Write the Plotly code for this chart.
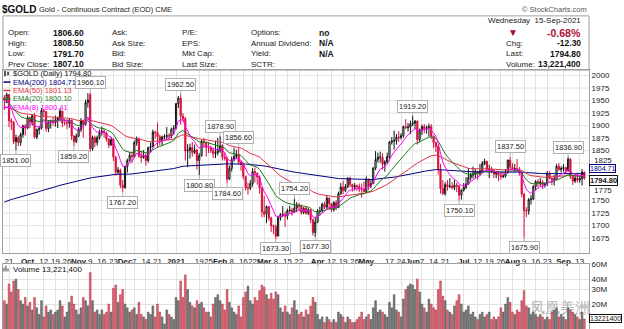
import math
import pandas as pd
import plotly.graph_objects as go

W, H = 624, 329
def fx(px): return px / W
def fy(py): return 1 - py / H

START, END = "2020-09-17", "2021-09-15"
HOLIDAYS = ["2020-11-26", "2020-12-25", "2021-01-01", "2021-01-18", "2021-02-15",
            "2021-04-02", "2021-05-31", "2021-07-05", "2021-09-06"]

opens = [
    # Sep 2020
    1956, 1950, 1962, 1910, 1907, 1868, 1876, 1866, 1882, 1899,
    # Oct
    1895, 1916, 1907, 1920, 1877, 1892, 1895, 1930, 1928, 1894, 1907, 1908, 1906, 1911, 1915, 1929, 1905, 1905, 1905, 1911, 1879, 1868,
    # Nov
    1879, 1892, 1910, 1903, 1946, 1962, 1854, 1876, 1866, 1876, 1886, 1889, 1885, 1873, 1861, 1872, 1837, 1807, 1811, 1781,
    # Dec
    1776, 1818, 1830, 1840, 1838, 1866, 1873, 1839, 1836, 1840, 1830, 1856, 1858, 1887, 1886, 1878, 1870, 1877, 1878, 1880, 1879, 1893,
    # Jan 2021
    1895, 1944, 1955, 1919, 1914, 1849, 1851, 1856, 1846, 1851, 1830, 1840, 1869, 1866, 1856, 1856, 1850, 1844, 1846,
    # Feb
    1850, 1860, 1837, 1834, 1793, 1814, 1832, 1838, 1842, 1827, 1823, 1798, 1775, 1775, 1784, 1808, 1805, 1797, 1775,
    # Mar
    1728, 1723, 1738, 1715, 1700, 1698, 1679, 1716, 1722, 1722, 1719, 1730, 1731, 1727, 1735, 1741, 1739, 1726, 1735, 1725, 1732, 1712, 1686,
    # Apr
    1707, 1729, 1729, 1743, 1737, 1755, 1744, 1732, 1746, 1736, 1764, 1777, 1770, 1778, 1794, 1782, 1777, 1780, 1778, 1773, 1772,
    # May
    1768, 1793, 1779, 1784, 1815, 1832, 1837, 1837, 1823, 1827, 1838, 1867, 1869, 1870, 1877, 1876, 1880, 1898, 1896, 1897,
    # Jun
    1903, 1905, 1909, 1872, 1891, 1898, 1894, 1896, 1898, 1879, 1866, 1858, 1812, 1774, 1764, 1782, 1778, 1779, 1776, 1781, 1779, 1761,
    # Jul
    1771, 1777, 1783, 1796, 1801, 1803, 1808, 1805, 1809, 1824, 1828, 1812, 1813, 1810, 1803, 1806, 1801, 1798, 1799, 1806, 1831,
    # Aug
    1817, 1813, 1814, 1812, 1806, 1763, 1730, 1729, 1752, 1753, 1778, 1788, 1786, 1787, 1781, 1784, 1805, 1794, 1791, 1793, 1819, 1812,
    # Sep
    1814, 1816, 1810, 1833, 1798, 1789, 1795, 1791, 1794, 1806.6,
]
highs = [
    1961, 1966, 1963, 1915, 1909, 1882, 1880, 1886, 1902, 1903,
    1920, 1918, 1922, 1925, 1894, 1897, 1935, 1933, 1929, 1911, 1912, 1917, 1920, 1918, 1934, 1930, 1913, 1912, 1914, 1912, 1881, 1884,
    1897, 1915, 1912, 1952, 1965, 1966.1, 1880, 1880, 1880, 1892, 1898, 1893, 1888, 1875, 1877, 1875, 1839, 1817, 1814, 1791,
    1820, 1834, 1847, 1848, 1870, 1878, 1876, 1850, 1851, 1845, 1858, 1866, 1892, 1890, 1906, 1882, 1880, 1883, 1897, 1885, 1896, 1901,
    1945, 1959, 1962.5, 1925, 1917, 1863, 1864, 1867, 1862, 1854, 1845, 1872, 1875, 1868, 1867, 1860, 1856, 1870, 1875,
    1878.9, 1863, 1846, 1838, 1820, 1838, 1856, 1852, 1856.6, 1830, 1826, 1800, 1786, 1791, 1815, 1816, 1806, 1800, 1777,
    1760, 1740, 1739, 1718, 1702, 1702, 1720, 1725, 1739, 1728, 1734, 1740, 1736, 1754.2, 1747, 1745, 1742, 1737, 1739, 1736, 1733, 1714, 1718,
    1733, 1738, 1746, 1748, 1759, 1756, 1745, 1749, 1751, 1768, 1785, 1790, 1783, 1797, 1798, 1784, 1785, 1782, 1784, 1784, 1788,
    1798, 1794, 1791, 1817, 1849, 1846, 1848, 1845, 1831, 1846, 1869, 1877, 1890, 1883, 1889, 1885, 1900, 1913, 1905, 1910,
    1919.2, 1911, 1910, 1894, 1902, 1903, 1900, 1904, 1903, 1880, 1868, 1862, 1823, 1791, 1787, 1791, 1795, 1787, 1791, 1786, 1781, 1772,
    1785, 1797, 1815, 1806, 1818, 1813, 1809, 1823, 1829, 1834, 1830, 1822, 1818, 1813, 1809, 1809, 1807, 1803, 1813, 1832, 1837.5,
    1825, 1823, 1833, 1817, 1808, 1765, 1737, 1755, 1761, 1781, 1791, 1793, 1795, 1791, 1787, 1809, 1809, 1797, 1801, 1823, 1825, 1819,
    1823, 1818, 1836.9, 1834, 1801, 1802, 1806, 1799, 1813, 1808.5,
]
lows = [
    1931, 1945, 1897, 1891, 1863, 1851, 1859, 1860, 1876, 1880,
    1893, 1895, 1900, 1874, 1873, 1882, 1892, 1918, 1888, 1887, 1894, 1900, 1898, 1895, 1908, 1897, 1900, 1893, 1896, 1871, 1859.2, 1865,
    1877, 1887, 1876, 1900, 1936, 1848, 1850, 1857, 1860, 1872, 1880, 1876, 1868, 1855, 1860, 1829, 1800, 1802, 1775, 1767.2,
    1774, 1806, 1828, 1826, 1835, 1860, 1836, 1826, 1834, 1820, 1826, 1846, 1856, 1874, 1856, 1860, 1860, 1872, 1873, 1872, 1875, 1882,
    1893, 1935, 1902, 1908, 1830, 1817, 1834, 1838, 1843, 1812, 1800.8, 1838, 1855, 1838, 1845, 1845, 1835, 1835, 1840,
    1846, 1830, 1830, 1784.6, 1791, 1808, 1828, 1833, 1822, 1810, 1792, 1770, 1762, 1771, 1778, 1786, 1782, 1764, 1717,
    1717, 1705, 1710, 1687, 1683, 1673.3, 1679, 1710, 1717, 1697, 1712, 1726, 1720, 1726, 1727, 1729, 1722, 1723, 1722, 1721, 1705, 1680, 1677.3,
    1705, 1720, 1726, 1733, 1734, 1732, 1727, 1728, 1731, 1735, 1761, 1763, 1767, 1775, 1777, 1768, 1770, 1769, 1767, 1756, 1766,
    1765, 1771, 1775, 1783, 1811, 1826, 1826, 1812, 1808, 1824, 1834, 1862, 1852, 1862, 1867, 1872, 1876, 1893, 1888, 1883,
    1899, 1893, 1862, 1867, 1881, 1885, 1884, 1878, 1873, 1855, 1847, 1802, 1764, 1761, 1760, 1770, 1775, 1772, 1771, 1767, 1750.1, 1752,
    1768, 1773, 1782, 1790, 1794, 1795, 1792, 1800, 1805, 1821, 1808, 1795, 1805, 1795, 1795, 1789, 1792, 1795, 1796, 1804, 1811,
    1811, 1807, 1808, 1800, 1757, 1675.9, 1717, 1722, 1742, 1751, 1770, 1777, 1779, 1773, 1776, 1779, 1795, 1781, 1780, 1792, 1810, 1806,
    1808, 1803, 1808, 1793, 1781, 1785, 1786, 1786, 1780, 1791.7,
]
closes = [
    1950, 1962, 1910, 1907, 1868, 1876, 1866, 1882, 1899, 1895,
    1916, 1907, 1920, 1877, 1892, 1895, 1930, 1928, 1894, 1907, 1908, 1906, 1911, 1915, 1929, 1905, 1905, 1905, 1911, 1879, 1868, 1879,
    1892, 1910, 1903, 1946, 1951, 1854, 1876, 1866, 1876, 1886, 1889, 1885, 1873, 1861, 1872, 1837, 1807, 1811, 1781, 1776,
    1818, 1830, 1840, 1838, 1866, 1873, 1839, 1836, 1840, 1830, 1856, 1858, 1887, 1886, 1878, 1870, 1877, 1878, 1880, 1879, 1893, 1895,
    1944, 1955, 1919, 1914, 1849, 1851, 1856, 1846, 1851, 1830, 1840, 1869, 1866, 1856, 1856, 1850, 1844, 1846, 1850,
    1860, 1837, 1834, 1793, 1814, 1832, 1838, 1842, 1827, 1823, 1798, 1775, 1775, 1784, 1808, 1805, 1797, 1775, 1728,
    1723, 1738, 1715, 1700, 1698, 1679, 1716, 1722, 1722, 1719, 1730, 1731, 1727, 1735, 1741, 1739, 1726, 1735, 1725, 1732, 1712, 1686, 1707,
    1729, 1729, 1743, 1737, 1755, 1744, 1732, 1746, 1736, 1764, 1777, 1770, 1778, 1794, 1782, 1777, 1780, 1778, 1773, 1772, 1768,
    1793, 1779, 1784, 1815, 1832, 1837, 1837, 1823, 1827, 1838, 1867, 1869, 1870, 1877, 1876, 1880, 1898, 1896, 1897, 1903,
    1905, 1909, 1872, 1891, 1898, 1894, 1896, 1898, 1879, 1866, 1858, 1812, 1774, 1764, 1782, 1778, 1779, 1776, 1781, 1779, 1761, 1771,
    1777, 1783, 1796, 1801, 1803, 1808, 1805, 1809, 1824, 1828, 1812, 1813, 1810, 1803, 1806, 1801, 1798, 1799, 1806, 1831, 1817,
    1813, 1814, 1812, 1806, 1763, 1730, 1729, 1752, 1753, 1778, 1788, 1786, 1787, 1781, 1784, 1805, 1794, 1791, 1793, 1819, 1812, 1814,
    1816, 1810, 1833, 1798, 1789, 1795, 1791, 1794, 1807.1, 1794.8,
]
volumes_m = [
    22, 20, 35, 28, 38, 40, 30, 22, 20, 24,
    19, 21, 17, 24, 18, 15, 22, 14, 19, 16, 17, 15, 16, 17, 22, 19, 14, 16, 21, 25, 20, 17,
    15, 18, 24, 22, 19, 48, 22, 16, 17, 15, 17, 15, 16, 20, 16, 31, 34, 21, 26, 30,
    20, 18, 16, 17, 18, 15, 21, 15, 14, 13, 16, 15, 19, 14, 20, 16, 14, 11.5, 17, 15, 14, 13,
    24, 22, 38, 24, 45, 30, 21, 19, 18, 22, 20, 21, 18, 16, 16, 14, 20, 24, 26,
    22, 20, 17, 30, 21, 18, 16, 15, 19, 14, 24, 28, 33, 22, 20, 24, 22, 29, 34,
    32, 26, 23, 27, 23, 28, 26, 18, 16, 19, 16, 15, 18, 22, 17, 15, 16, 14, 17, 15, 19, 24, 21,
    15, 13, 14, 12, 14, 13, 12, 13, 12, 16, 15, 14, 12, 14, 13, 12, 12, 13, 14, 16, 13,
    14, 15, 13, 18, 22, 16, 17, 16, 15, 14, 21, 18, 26, 17, 16, 14, 23, 30, 33, 35,
    34, 30, 40, 28, 20, 18, 16, 23, 20, 18, 17, 30, 38, 25, 22, 17, 16, 15, 19, 22, 26, 20,
    16, 17, 19, 15, 16, 14, 13, 15, 16, 14, 15, 16, 13, 14, 13, 14, 18, 16, 20, 24, 21,
    16, 15, 17, 16, 22, 29, 19, 18, 15, 16, 15, 14, 15, 14, 13, 14, 13, 16, 17, 18, 14, 15,
    14, 13, 18, 17, 16, 15, 14, 13, 16, 13.2214,
]

EMA_SEEDS = {200: 1745, 50: 1935, 20: 1945, 8: 1948}
EMA_COLORS = {200: "#000080", 50: "#dc3545", 20: "#1f7a1f", 8: "#ff00ff"}
EMA_LEGEND = [(200, "EMA(200) 1804.71"), (50, "EMA(50) 1801.13"), (20, "EMA(20) 1800.10"), (8, "EMA(8) 1800.41")]
EMA200_LAST = 1804.71

# labelled highs / lows
PRICE_LABELS = [("2020-09-24", "low"), ("2020-10-29", "low"), ("2020-11-09", "high"), ("2020-11-30", "low"),
                ("2021-01-06", "high"), ("2021-01-19", "low"), ("2021-02-01", "high"), ("2021-02-04", "low"),
                ("2021-02-11", "high"), ("2021-03-08", "low"), ("2021-03-18", "high"), ("2021-03-31", "low"),
                ("2021-06-01", "high"), ("2021-06-29", "low"), ("2021-07-30", "high"), ("2021-08-09", "low"),
                ("2021-09-03", "high")]

TICK_DATES = ["2020-09-21", "2020-10-01", "2020-10-12", "2020-10-19", "2020-10-26", "2020-11-02", "2020-11-09",
              "2020-11-16", "2020-11-23", "2020-12-01", "2020-12-07", "2020-12-14", "2020-12-21", "2021-01-04",
              "2021-01-19", "2021-01-25", "2021-02-01", "2021-02-08", "2021-02-16", "2021-02-22", "2021-03-01",
              "2021-03-08", "2021-03-15", "2021-03-22", "2021-04-01", "2021-04-12", "2021-04-19", "2021-04-26",
              "2021-05-03", "2021-05-17", "2021-05-24", "2021-06-01", "2021-06-07", "2021-06-14", "2021-06-21",
              "2021-07-01", "2021-07-12", "2021-07-19", "2021-07-26", "2021-08-02", "2021-08-09", "2021-08-16",
              "2021-08-23", "2021-09-01", "2021-09-13"]
TICK_TEXT = ["21", "<b>Oct</b>", "12", "19", "26", "<b>Nov</b>", "9", "16", "23", "<b>Dec</b>", "7", "14", "21",
             "<b>2021</b>", "19", "25", "<b>Feb</b>", "8", "16", "22", "<b>Mar</b>", "8", "15", "22", "<b>Apr</b>",
             "12", "19", "26", "<b>May</b>", "17", "24", "<b>Jun</b>", "7", "14", "21", "<b>Jul</b>", "12", "19",
             "26", "<b>Aug</b>", "9", "16", "23", "<b>Sep</b>", "13"]
# axis labels; 1800 sits behind the last-value boxes in the reference,
# 1825 and 1775 are nudged clear of those boxes
PRICE_TICKS = [1675, 1700, 1725, 1750, 1850, 1875, 1900, 1925, 1950, 1975, 2000]
NUDGED_TICKS = [(1825, 3), (1775, -2)]
PRICE_GRID = [1675, 1700, 1725, 1750, 1775, 1800, 1825, 1850, 1875, 1900, 1925, 1950, 1975, 2000]
VOL_TICKS = [20e6, 30e6, 40e6, 60e6]
VOL_TICK_TEXT = ["20M", "30M", "40M", "60M"]

dates = [d.strftime("%Y-%m-%d") for d in pd.bdate_range(START, END) if d.strftime("%Y-%m-%d") not in HOLIDAYS]
n = len(dates)
assert n == len(opens) == len(highs) == len(lows) == len(closes) == len(volumes_m), \
    (n, len(opens), len(highs), len(lows), len(closes), len(volumes_m))
idx = {d: i for i, d in enumerate(dates)}
xs = list(range(n))

FONT = "Liberation Sans, Arial, sans-serif"
RED = "#d8103c"

fig = go.Figure()
fig.add_trace(go.Candlestick(
    x=xs, open=opens, high=highs, low=lows, close=closes,
    increasing=dict(line=dict(color="#111111", width=1), fillcolor="#ffffff"),
    decreasing=dict(line=dict(color=RED, width=1), fillcolor=RED),
    whiskerwidth=0, showlegend=False, xaxis="x", yaxis="y"))

for period in (200, 50, 20, 8):
    k = 2 / (period + 1)
    e = EMA_SEEDS[period]
    vals = []
    for c in closes:
        e = e + k * (c - e)
        vals.append(e)
    fig.add_trace(go.Scatter(x=xs, y=vals, mode="lines", line=dict(color=EMA_COLORS[period], width=1),
                             showlegend=False, xaxis="x", yaxis="y"))

vcol, vline = [], []
for i in range(n):
    prev = closes[i - 1] if i > 0 else opens[0]
    if closes[i] < prev:
        vcol.append("#dc6a76"); vline.append("#b0283c")
    else:
        vcol.append("#7a7a7a"); vline.append("#4a4a4a")
fig.add_trace(go.Bar(x=xs, y=[v * 1e6 for v in volumes_m], marker=dict(color=vcol, line=dict(color=vline, width=0.5)),
                     showlegend=False, xaxis="x2", yaxis="y2"))

XR = [-0.59, 252.0]
PLOT_L, PLOT_R = 3, 589
tickvals = [idx[d] for d in TICK_DATES]
grid = "#e2e2e2"
axis_line = "#a0a0a0"

fig.update_layout(
    width=W, height=H, margin=dict(l=0, r=0, t=0, b=0),
    paper_bgcolor="white", plot_bgcolor="white", bargap=0.25,
    font=dict(family=FONT, size=8, color="#222"),
    xaxis=dict(domain=[fx(PLOT_L), fx(PLOT_R)], range=XR, tickvals=tickvals, ticktext=TICK_TEXT, tickangle=0,
               tickfont=dict(size=8, color="#222"), showgrid=True, gridcolor=grid, gridwidth=1,
               showline=True, mirror=True, linecolor=axis_line, zeroline=False, rangeslider=dict(visible=False),
               ticks="", anchor="y"),
    yaxis=dict(domain=[fy(252.7), fy(67.7)], range=[1644.5, 2011], side="right", tickvals=PRICE_TICKS,
               tickfont=dict(size=8, color="#222"), showgrid=False, showline=True, mirror=True,
               linecolor=axis_line, zeroline=False, ticks="", anchor="x"),
    xaxis2=dict(domain=[fx(PLOT_L), fx(PLOT_R)], range=XR, tickvals=tickvals, showticklabels=False,
                showgrid=True, gridcolor=grid, showline=True, mirror=True, linecolor=axis_line,
                zeroline=False, ticks="", anchor="y2"),
    yaxis2=dict(domain=[0, fy(263)], type="log", range=[7.0, 7.79], side="right", tickvals=VOL_TICKS,
                ticktext=VOL_TICK_TEXT, tickfont=dict(size=8, color="#222"), showgrid=True, gridcolor=grid,
                showline=True, mirror=True, linecolor=axis_line, zeroline=False, ticks="", anchor="x2"),
)

ann = []
shapes = []
for g in PRICE_GRID:
    shapes.append(dict(type="line", xref="paper", yref="y", x0=fx(PLOT_L), x1=fx(PLOT_R), y0=g, y1=g,
                       line=dict(color=grid, width=1), layer="below"))
for val, shift in NUDGED_TICKS:
    ann.append(dict(x=fx(PLOT_R + 2.5), y=val, xref="paper", yref="y", text=str(val), showarrow=False,
                    xanchor="left", yanchor="middle", yshift=shift,
                    font=dict(family=FONT, size=8, color="#222")))

def txt(x, y, s, size=8, color="#222", anchor="left", bold=False, **kw):
    ann.append(dict(x=fx(x), y=fy(y), xref="paper", yref="paper", text=(f"<b>{s}</b>" if bold else s),
                    showarrow=False, xanchor=anchor, yanchor="middle",
                    font=dict(family=FONT, size=size, color=color), **kw))

# header
txt(0, 7, "$GOLD", size=10, color="#111", bold=True)
txt(37, 7, "Gold - Continuous Contract (EOD) CME", size=7.5, color="#222")
txt(589, 7, "© StockCharts.com", size=7.5, color="#555", anchor="right")
shapes.append(dict(type="rect", xref="paper", yref="paper", x0=fx(3), x1=fx(589), y0=fy(67.7), y1=fy(13),
                   line=dict(color="#a0a0a0", width=1)))
rows_y = [30, 40.7, 51.3, 62]
left_labels = ["Open:", "High:", "Low:", "Prev Close:"]
left_vals = ["1806.60", "1808.50", "1791.70", "1807.10"]
col2 = ["Ask:", "Ask Size:", "Bid:", "Bid Size:"]
col3 = ["P/E:", "EPS:", "Mkt Cap:", "Last Size:"]
col4 = ["Options:", "Annual Dividend:", "Yield:", "SCTR:"]
col4_vals = ["no", "N/A", "N/A", ""]
for i, y in enumerate(rows_y):
    txt(6, y, left_labels[i], size=8)
    txt(86, y, left_vals[i], size=8.5, anchor="right", bold=True, color="#111")
    txt(110, y, col2[i], size=8)
    txt(180, y, col3[i], size=8)
    txt(249, y, col4[i], size=8)
    if col4_vals[i]:
        txt(317, y, col4_vals[i], size=8.5, bold=True, color="#111")
txt(583, 17.3, "Wednesday  15-Sep-2021", size=8, anchor="right")
txt(513, 30, "▼", size=10, color="#a01030", anchor="center")
txt(583, 30, "-0.68%", size=10.5, color="#b0103a", anchor="right", bold=True)
for lab, val, y in [("Chg:", "-12.30", 40.7), ("Last:", "1794.80", 51.3), ("Volume:", "13,221,400", 62)]:
    txt(504, y, lab, size=8)
    txt(583, y, val, size=8.5, anchor="right", bold=True, color="#111")

# price panel legend
shapes.append(dict(type="line", xref="paper", yref="paper", x0=fx(5), x1=fx(5), y0=fy(74), y1=fy(68.5),
                   line=dict(color="#222", width=1.5)))
shapes.append(dict(type="line", xref="paper", yref="paper", x0=fx(8), x1=fx(8), y0=fy(73), y1=fy(69.5),
                   line=dict(color="#222", width=1.5)))
txt(11, 71.5, "$GOLD (Daily) 1794.80", size=7.5, color="#111")
for j, (p, label) in enumerate(EMA_LEGEND):
    y = 79.8 + j * 8.5
    shapes.append(dict(type="line", xref="paper", yref="paper", x0=fx(3.5), x1=fx(10.5), y0=fy(y), y1=fy(y),
                       line=dict(color=EMA_COLORS[p], width=1.5)))
    txt(11, y, label, size=7.5, color=EMA_COLORS[p])

# volume legend
for k2, h2 in enumerate([4, 6, 3]):
    shapes.append(dict(type="line", xref="paper", yref="paper", x0=fx(4 + 2 * k2), x1=fx(4 + 2 * k2),
                       y0=fy(271), y1=fy(271 - h2), line=dict(color="#444", width=1)))
txt(11, 268.5, "Volume 13,221,400", size=8, color="#111")

# high / low labels
for d, kind in PRICE_LABELS:
    i = idx[d]
    v = highs[i] if kind == "high" else lows[i]
    ann.append(dict(x=i, y=v, xref="x", yref="y", text=f"{v:.2f}", showarrow=True, arrowhead=0,
                    arrowwidth=1, arrowcolor="#b0b0b0", ax=0, ay=(-10 if kind == "high" else 10),
                    font=dict(family=FONT, size=7.5, color="#222"), bgcolor="white",
                    bordercolor="#b0b0b0", borderwidth=1, borderpad=1))

# right-axis value boxes
ann.append(dict(x=fx(PLOT_R), y=EMA200_LAST, xref="paper", yref="y", text=f"{EMA200_LAST:.2f}", showarrow=False,
                xanchor="left", yanchor="middle", yshift=4.3, font=dict(family=FONT, size=7, color="#000080"),
                bgcolor="white", bordercolor="#000080", borderwidth=1, borderpad=0))
ann.append(dict(x=fx(PLOT_R), y=closes[-1], xref="paper", yref="y", text=f"<b>{closes[-1]:.2f}</b>", showarrow=False,
                xanchor="left", yanchor="middle", yshift=-2.2, font=dict(family=FONT, size=7.5, color="#111"),
                bgcolor="white", bordercolor="#111", borderwidth=1, borderpad=0))
ann.append(dict(x=fx(PLOT_R), y=math.log10(volumes_m[-1] * 1e6), xref="paper", yref="y2", text="13221400",
                showarrow=False, xanchor="left", yanchor="middle", font=dict(family=FONT, size=7, color="#111"),
                bgcolor="white", bordercolor="#111", borderwidth=1, borderpad=0))

# watermark
txt(560, 307, "凤凰美洲", size=15, color="rgba(110,110,110,0.55)", anchor="center")

fig.update_layout(annotations=ann, shapes=shapes)
fig.write_html("out.html")
